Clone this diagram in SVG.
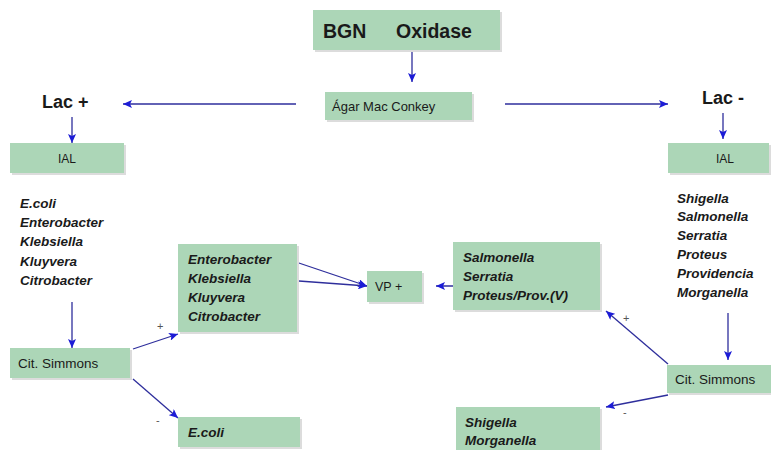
<svg xmlns="http://www.w3.org/2000/svg" width="771" height="450" viewBox="0 0 771 450">
<defs>
<marker id="ah" markerUnits="userSpaceOnUse" markerWidth="10" markerHeight="8" refX="9" refY="4" orient="auto">
<path d="M0,0 L9,4 L0,8 L2,4 Z" fill="#1c1cd6"/>
</marker>
<style>
.box{fill:#acd6b7;}
.sh{fill:#dcdcdc;}
.t{font-family:"Liberation Sans",Arial,sans-serif;fill:#1a1a1a;}
.n{font-size:13px;}
.s{font-size:13.5px;font-weight:bold;font-style:italic;}
.big{font-size:18px;font-weight:bold;}
.c{stroke:#2e2e9c;stroke-width:1.3;fill:none;marker-end:url(#ah);}
.lbl{font-family:"Liberation Sans",Arial,sans-serif;font-size:11px;fill:#555;}
</style>
</defs>
<rect width="771" height="450" fill="#ffffff"/>

<g id="connectors">
<line class="c" x1="412" y1="52" x2="412" y2="82"/>
<line class="c" x1="296" y1="104" x2="123" y2="104"/>
<line class="c" x1="505" y1="104" x2="668" y2="104"/>
<line class="c" x1="72" y1="117" x2="72" y2="143"/>
<line class="c" x1="723" y1="113" x2="723" y2="139"/>
<line class="c" x1="72" y1="302" x2="72" y2="348"/>
<line class="c" x1="133" y1="349" x2="178" y2="334"/>
<line class="c" x1="133" y1="379" x2="178" y2="418"/>
<line class="c" x1="287" y1="259" x2="367" y2="286"/>
<line class="c" x1="258" y1="278" x2="367" y2="286"/>
<line class="c" x1="495" y1="286" x2="436" y2="286"/>
<line class="c" x1="728" y1="313" x2="728" y2="360"/>
<line class="c" x1="668" y1="364" x2="606" y2="311"/>
<line class="c" x1="668" y1="395" x2="606" y2="407"/>
<text class="lbl" x="157" y="330">+</text>
<text class="lbl" x="156" y="424">-</text>
<text class="lbl" x="623" y="322">+</text>
<text class="lbl" x="623" y="416">-</text>
</g>

<g id="bgn">
<rect class="sh" x="315" y="12" width="187" height="40"/>
<rect class="box" x="313" y="10" width="187" height="40"/>
<text class="t big" x="323" y="38" style="font-size:19.5px">BGN<tspan x="396">Oxidase</tspan></text>
</g>

<g id="agar">
<rect class="sh" x="327" y="94" width="147" height="28"/>
<rect class="box" x="325" y="92" width="147" height="28"/>
<text class="t n" x="332" y="111">Ágar Mac Conkey</text>
</g>

<g id="lacpos">
<text class="t big" x="42" y="108">Lac +</text>
</g>

<g id="lacneg">
<text class="t big" x="702" y="104">Lac -</text>
</g>

<g id="ial-left">
<rect class="sh" x="12" y="145" width="114" height="30"/>
<rect class="box" x="10" y="143" width="114" height="30"/>
<text class="t" x="67" y="163" style="font-size:12px" text-anchor="middle">IAL</text>
</g>

<g id="ial-right">
<rect class="sh" x="670" y="145" width="101" height="30"/>
<rect class="box" x="668" y="143" width="101" height="30"/>
<text class="t" x="725" y="163" style="font-size:12px" text-anchor="middle">IAL</text>
</g>

<g id="list-left">
<text class="t s" x="20" y="208">E.coli</text>
<text class="t s" x="20" y="227">Enterobacter</text>
<text class="t s" x="20" y="246">Klebsiella</text>
<text class="t s" x="20" y="266">Kluyvera</text>
<text class="t s" x="20" y="285">Citrobacter</text>
</g>

<g id="list-right">
<text class="t s" x="677" y="203">Shigella</text>
<text class="t s" x="677" y="221">Salmonella</text>
<text class="t s" x="677" y="240">Serratia</text>
<text class="t s" x="677" y="259">Proteus</text>
<text class="t s" x="677" y="278">Providencia</text>
<text class="t s" x="677" y="297">Morganella</text>
</g>

<g id="cit-left">
<rect class="sh" x="12" y="350" width="120" height="30"/>
<rect class="box" x="10" y="348" width="120" height="30"/>
<text class="t" x="18" y="368" style="font-size:13.5px">Cit. Simmons</text>
</g>

<g id="cit-right">
<rect class="sh" x="669" y="367" width="102" height="28"/>
<rect class="box" x="667" y="365" width="104" height="28"/>
<text class="t" x="675" y="384" style="font-size:13.5px">Cit. Simmons</text>
</g>

<g id="citpos-left">
<rect class="sh" x="180" y="246" width="119" height="88"/>
<rect class="box" x="178" y="244" width="119" height="88"/>
<text class="t s" x="188" y="264">Enterobacter</text>
<text class="t s" x="188" y="283">Klebsiella</text>
<text class="t s" x="188" y="302">Kluyvera</text>
<text class="t s" x="188" y="321">Citrobacter</text>
</g>

<g id="ecoli">
<rect class="sh" x="180" y="419" width="122" height="30"/>
<rect class="box" x="178" y="417" width="122" height="30"/>
<text class="t s" x="188" y="437">E.coli</text>
</g>

<g id="vp">
<rect class="sh" x="369" y="273" width="55" height="31"/>
<rect class="box" x="367" y="271" width="55" height="31"/>
<text class="t" x="375" y="291" style="font-size:12.5px">VP +</text>
</g>

<g id="citpos-right">
<rect class="sh" x="455" y="244" width="147" height="68"/>
<rect class="box" x="453" y="242" width="147" height="68"/>
<text class="t s" x="463" y="262">Salmonella</text>
<text class="t s" x="463" y="281">Serratia</text>
<text class="t s" x="463" y="300">Proteus/Prov.(V)</text>
</g>

<g id="citneg-right">
<rect class="sh" x="458" y="409" width="144" height="41"/>
<rect class="box" x="456" y="407" width="144" height="43"/>
<text class="t s" x="465" y="427">Shigella</text>
<text class="t s" x="465" y="445">Morganella</text>
</g>
</svg>
